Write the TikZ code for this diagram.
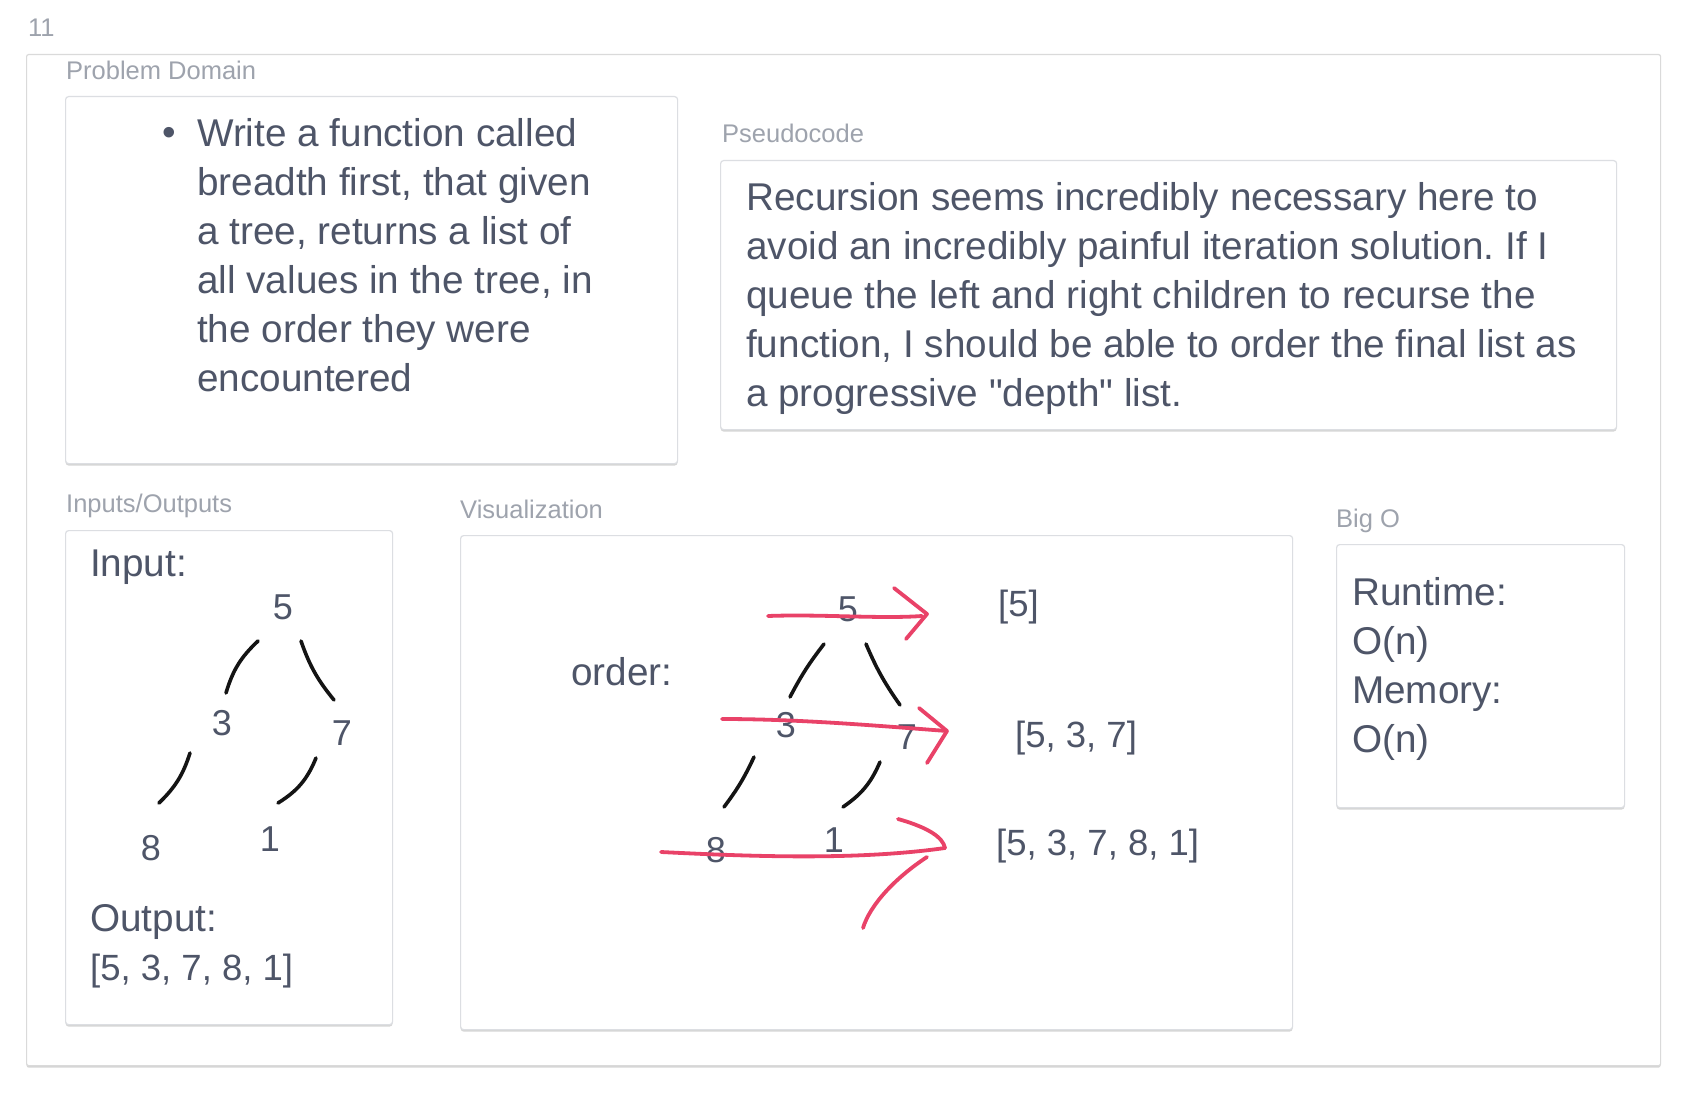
\documentclass[tikz,border=0pt]{standalone}
\usepackage{fontspec}
\setmainfont{Liberation Sans}[Ligatures=TeXOff]
\usetikzlibrary{calc,shadows}
\definecolor{inkText}{HTML}{4E5568}
\definecolor{labelGray}{HTML}{9EA3AD}
\definecolor{cardLine}{HTML}{DCDEE2}
\definecolor{frameLine}{HTML}{DADADA}
\definecolor{redInk}{HTML}{E94268}
\frenchspacing

\begin{document}
\begin{tikzpicture}[x=1pt, y=-1pt,
    card/.style={draw=cardLine, line width=1.2pt, fill=white, rounded corners=3pt,
      anchor=north west, inner sep=0pt,
      drop shadow={shadow xshift=0pt, shadow yshift=-2pt, opacity=0.16, fill=black}},
    tag/.style={anchor=base west, inner sep=0pt, text=labelGray,
      font=\fontsize{25.5pt}{30pt}\selectfont},
    body/.style={anchor=base west, inner sep=0pt, text=inkText, align=left,
      font=\fontsize{38.7pt}{49pt}\selectfont},
    listtext/.style={body, font=\fontsize{36.5pt}{44pt}\selectfont},
    digit/.style={inner sep=0pt, text=inkText, font=\fontsize{36pt}{40pt}\selectfont},
    branch/.style={draw=black!92, line width=3.6pt, line cap=round},
    sweep/.style={draw=redInk, line width=3.8pt, line cap=round, line join=round}
  ]
  \fill[white] (0,0) rectangle (1690,1094);
  \useasboundingbox (0,0) rectangle (1690,1094);

  % cards
  \node[card, draw=frameLine, rounded corners=2pt, minimum width=1634pt, minimum height=1011pt] (frame) at (26,54) {};
  \node[card, minimum width=612pt, minimum height=367pt] (probbox) at (65,96) {};
  \node[card, minimum width=896pt, minimum height=269pt] (pseudobox) at (720,160) {};
  \node[card, minimum width=327pt, minimum height=494pt] (iobox) at (65,530) {};
  \node[card, minimum width=832pt, minimum height=494pt] (visbox) at (460,535) {};
  \node[card, minimum width=288pt, minimum height=263pt] (bigobox) at (1336,544) {};

  % section tags
  \node[tag] (cardnum) at (28,37) {11};
  \node[tag] (probtag) at (66,80) {Problem Domain};
  \node[tag] (pseudotag) at (722,143) {Pseudocode};
  \node[tag] (iotag) at (66,512) {Inputs/Outputs};
  \node[tag] (vistag) at (460,518) {Visualization};
  \node[tag] (bigotag) at (1336,527) {Big O};

  % problem domain (base = last line)
  \node[body] (bullet) at (162,146) {•};
  \node[body] (probtext) at (197,391) {Write a function called\\breadth first, that given\\a tree, returns a list of\\all values in the tree, in\\the order they were\\encountered};

  % pseudocode
  \node[body] (pseudotext) at (746,406) {Recursion seems incredibly necessary here to\\avoid an incredibly painful iteration solution. If I\\queue the left and right children to recurse the\\function, I should be able to order the final list as\\a progressive "depth" list.};

  % inputs/outputs
  \node[body] (input) at (90,576) {Input:};
  \node[body] (output) at (90,931) {Output:};
  \node[listtext] (outlist) at (90,980) {[5, 3, 7, 8, 1]};
  \node[digit] (n5) at (283,607) {5};
  \node[digit] (n3) at (222,723) {3};
  \node[digit] (n7) at (342,733) {7};
  \node[digit] (n8) at (151,848) {8};
  \node[digit] (n1) at (270,839) {1};
  \draw[branch] ($(n5)+(-25,34)$) to[bend right=15] ($(n3)+(4,-30)$);
  \draw[branch] ($(n5)+(18,34)$) to[bend right=10] ($(n7)+(-8,-33)$);
  \draw[branch] ($(n3)+(-32,30)$) to[bend left=14] ($(n8)+(8,-45)$);
  \draw[branch] ($(n7)+(-26,25)$) to[bend left=18] ($(n1)+(8,-36)$);

  % visualization
  \node[body, anchor=west] (order) at (571,672) {order:};
  \node[digit] (v5) at (848,609) {5};
  \node[digit] (v3) at (786,725) {3};
  \node[digit] (v7) at (907,737) {7};
  \node[digit] (v8) at (716,850) {8};
  \node[digit] (v1) at (834,840) {1};
  \draw[branch] ($(v5)+(-24,35)$) to[bend right=5] ($(v3)+(4,-28)$);
  \draw[branch] ($(v5)+(18,35)$) to[bend right=6] ($(v7)+(-7,-32)$);
  \draw[branch] ($(v3)+(-32,32)$) to[bend left=6] ($(v8)+(8,-43)$);
  \draw[branch] ($(v7)+(-27,25)$) to[bend left=16] ($(v1)+(9,-33)$);
  \node[listtext, anchor=west] (row1) at (998,607) {[5]};
  \node[listtext, anchor=west] (row2) at (1015,738) {[5, 3, 7]};
  \node[listtext, anchor=west] (row3) at (996,846) {[5, 3, 7, 8, 1]};

  % red level sweeps
  \draw[sweep] (768,616) .. controls (820,614) and (880,619) .. (922,616);
  \draw[sweep] (894,588) -- (927,614) -- (906,639);
  \draw[sweep] (722,719) .. controls (800,719) and (880,726) .. (947,731);
  \draw[sweep] (919,708) -- (947,731) -- (927,763);
  \draw[sweep] (661,852) .. controls (760,857) and (860,860) .. (945,848);
  \draw[sweep] (898,819) .. controls (930,828) and (943,838) .. (945,848);
  \draw[sweep] (927,857) .. controls (895,878) and (870,905) .. (863,928);

  % big o
  \node[body] (bigotext) at (1352,752) {Runtime:\\O(n)\\Memory:\\O(n)};
\end{tikzpicture}
\end{document}
